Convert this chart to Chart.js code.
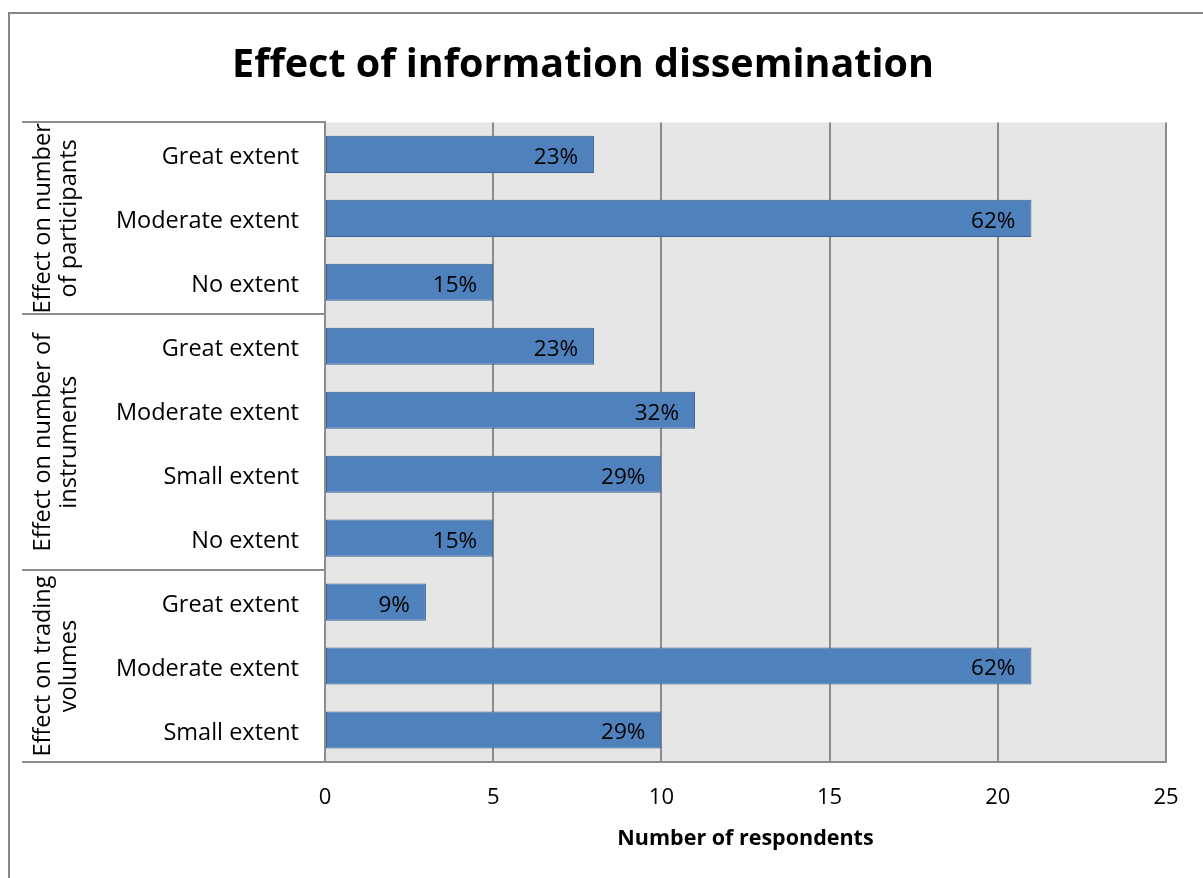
<!DOCTYPE html>
<html><head><meta charset="utf-8">
<script src="https://cdn.jsdelivr.net/npm/chart.js@4.4.0/dist/chart.umd.min.js"></script>
<style>html,body{margin:0;padding:0;background:#fff;} #wrap{width:1203px;height:878px;position:relative;}</style>
</head><body><div id="wrap"><canvas id="c"></canvas></div>
<script>
// Survey responses, top to bottom
const categories = ['Great extent','Moderate extent','No extent','Great extent','Moderate extent','Small extent','No extent','Great extent','Moderate extent','Small extent'];
const respondents = [8, 21, 5, 8, 11, 10, 5, 3, 21, 10];
const shareLabels = ['23%','62%','15%','23%','32%','29%','15%','9%','62%','29%'];
const groupNames = [['Effect on number','of participants'],['Effect on number of','instruments'],['Effect on trading','volumes']];
const groupSizes = [3, 4, 3];
const xTicks = [0, 5, 10, 15, 20, 25];

const FONT = '"Open Sans", Lato, sans-serif';
const LINE = '#8c8c8c';

// Background, outer frame, group brackets and value labels
const frame = {
  id: 'frame',
  beforeDraw(chart) {
    const { ctx, chartArea: a } = chart;
    ctx.save();
    ctx.fillStyle = '#e6e6e6';
    ctx.fillRect(a.left, a.top, a.right - a.left, a.bottom - a.top);
    ctx.strokeStyle = '#868686';
    ctx.lineWidth = 2;
    ctx.beginPath();
    ctx.moveTo(9, chart.height);
    ctx.lineTo(9, 13);
    ctx.lineTo(chart.width, 13);
    ctx.stroke();
    ctx.restore();
  },
  afterDatasetsDraw(chart) {
    const { ctx, chartArea: a } = chart;
    const ys = chart.scales.y;
    const boundary = (i) => {
      if (i <= 0) return a.top;
      if (i >= categories.length) return a.bottom;
      return (ys.getPixelForValue(i - 1) + ys.getPixelForValue(i)) / 2;
    };
    ctx.save();
    ctx.strokeStyle = LINE;
    ctx.lineWidth = 2;
    let start = 0;
    const edges = [0];
    groupSizes.forEach(n => { start += n; edges.push(start); });
    ctx.beginPath();
    edges.forEach(e => {
      const y = Math.round(boundary(e));
      ctx.moveTo(22, y);
      ctx.lineTo(a.left, y);
    });
    ctx.stroke();

    // rotated group names
    ctx.fillStyle = '#000';
    ctx.font = '23.5px ' + FONT;
    ctx.textAlign = 'center';
    ctx.textBaseline = 'middle';
    for (let g = 0; g < groupSizes.length; g++) {
      const y0 = boundary(edges[g]);
      const y1 = boundary(edges[g + 1]);
      const cy = (y0 + y1) / 2;
      ctx.save();
      ctx.translate(56, cy);
      ctx.rotate(-Math.PI / 2);
      ctx.fillText(groupNames[g][0], 0, -13);
      ctx.fillText(groupNames[g][1], 0, 13);
      ctx.restore();
    }

    // value labels inside bar ends
    ctx.font = '22.5px ' + FONT;
    ctx.textAlign = 'right';
    const meta = chart.getDatasetMeta(0);
    meta.data.forEach((bar, i) => {
      ctx.fillText(shareLabels[i], bar.x - 16, bar.y + 3);
    });
    ctx.restore();
  }
};

new Chart(document.getElementById('c'), {
  type: 'bar',
  data: {
    labels: categories,
    datasets: [{
      data: respondents,
      backgroundColor: '#4f81bd',
      borderColor: '#3b6391',
      borderWidth: 1,
      borderSkipped: false,
      barPercentage: 0.58,
      categoryPercentage: 1
    }]
  },
  options: {
    indexAxis: 'y',
    responsive: true,
    maintainAspectRatio: false,
    animation: false,
    layout: { padding: { left: 0, right: 37, top: 0, bottom: 22 } },
    plugins: {
      legend: { display: false },
      tooltip: { enabled: false },
      title: {
        display: true,
        text: 'Effect of information dissemination',
        color: '#000',
        font: { family: FONT, size: 39.5, weight: 'bold' },
        padding: { top: 42, bottom: 33 }
      }
    },
    scales: {
      x: {
        min: 0, max: 25,
        afterBuildTicks(s) { s.ticks = xTicks.map(v => ({ value: v })); },
        ticks: { color: '#000', font: { family: FONT, size: 22 }, padding: 23 },
        grid: { color: LINE, lineWidth: 2, drawTicks: false },
        border: { display: true, color: LINE, width: 2 },
        title: {
          display: true, text: 'Number of respondents', color: '#000',
          font: { family: FONT, size: 21.5, weight: 'bold' }, padding: { top: 10 }
        },
        afterFit(s) { s.height = 94; }
      },
      y: {
        grid: { display: false, drawTicks: false },
        border: { display: true, color: LINE, width: 2 },
        ticks: { color: '#000', font: { family: FONT, size: 23.5 }, padding: 26, labelOffset: 3 },
        afterFit(s) { s.width = 325; }
      }
    }
  },
  plugins: [frame]
});
</script>
</body></html>
